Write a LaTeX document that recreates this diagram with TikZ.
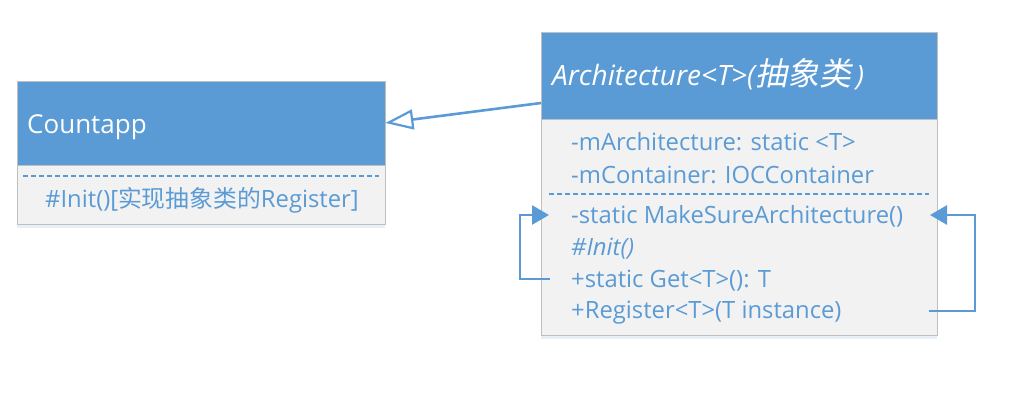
\documentclass[tikz,border=0pt]{standalone}
\usepackage{fontspec}
\setmainfont{Open Sans}
\newfontfamily\cjk{Noto Sans CJK SC}
\newfontfamily\cjkit[FakeSlant=0.2]{Noto Sans CJK SC}
\usetikzlibrary{arrows.meta,shadows}
\definecolor{hblue}{HTML}{5B9BD5}
\definecolor{bodyfill}{HTML}{F2F2F2}
\definecolor{edgegray}{HTML}{BFBFBF}
\begin{document}
\begin{tikzpicture}[x=1pt,y=-1pt,
  hdr/.style={draw=edgegray, fill=hblue, line width=0.8pt, inner sep=0pt},
  bodybox/.style={draw=edgegray, fill=bodyfill, line width=0.8pt, inner sep=0pt,
     drop shadow={shadow xshift=0pt, shadow yshift=-4pt, opacity=0.15, fill=hblue}},
  titletext/.style={text=white, anchor=base west, inner sep=0pt},
  membertext/.style={text=hblue, font=\fontsize{23.8}{28}\selectfont, anchor=base west, inner sep=0pt},
  sepline/.style={hblue, line width=1.6pt, dash pattern=on 5pt off 3pt},
  genline/.style={hblue, line width=2.6pt, -{Triangle[open, length=28pt, width=20pt, fill=white, line width=2.2pt]}},
  loopline/.style={hblue, line width=2.8pt, -{Triangle[length=17pt, width=19pt]}}]
\useasboundingbox (0,0) rectangle (1019,402);
% Countapp
\node[bodybox, minimum width=368pt, minimum height=59pt] (countbody) at (201,194.5) {};
\node[hdr, minimum width=368pt, minimum height=84pt] (counthead) at (201,123) {};
\node[titletext, font=\fontsize{26}{31}\selectfont] (counttitle) at (27,133) {Countapp};
\draw[sepline] (23,176) coordinate (cs1) -- (379,176) coordinate (cs2);
\node[membertext] (countinit) at (45,207) {\#Init()[{\cjk 实现抽象类的}Register]};
% Architecture
\node[bodybox, minimum width=396pt, minimum height=216pt] (archbody) at (739,227) {};
\node[hdr, minimum width=396pt, minimum height=87pt] (archhead) at (739,75.5) {};
\node[titletext, font=\fontsize{28}{33}\selectfont] (archtitle) at (552,85) {\itshape Architecture<T>({\cjkit\fontsize{32}{36}\selectfont 抽象类}\kern5pt)};
\node[membertext] (m1) at (571,150) {-mArchitecture: static <T>};
\node[membertext] (m2) at (571,183) {-mContainer: IOCContainer};
\draw[sepline] (549,194) coordinate (as1) -- (929,194) coordinate (as2);
\node[membertext] (m3) at (571,223) {-static MakeSureArchitecture()};
\node[membertext] (m4) at (571,255) {\itshape \#Init()};
\node[membertext] (m5) at (571,287) {+static Get<T>(): T};
\node[membertext] (m6) at (571,318) {+Register<T>(T instance)};
% generalization
\coordinate (gstart) at (541,103);
\draw[genline] (gstart) -- (counthead.east);
% self loops
\coordinate (getL) at (550,279);
\coordinate (msL) at (549,215);
\draw[loopline] (getL) -- ++(-30,0) |- (msL);
\coordinate (regR) at (929,311);
\coordinate (msR) at (930,215);
\draw[loopline] (regR) -- ++(46,0) |- (msR);
\end{tikzpicture}
\end{document}
